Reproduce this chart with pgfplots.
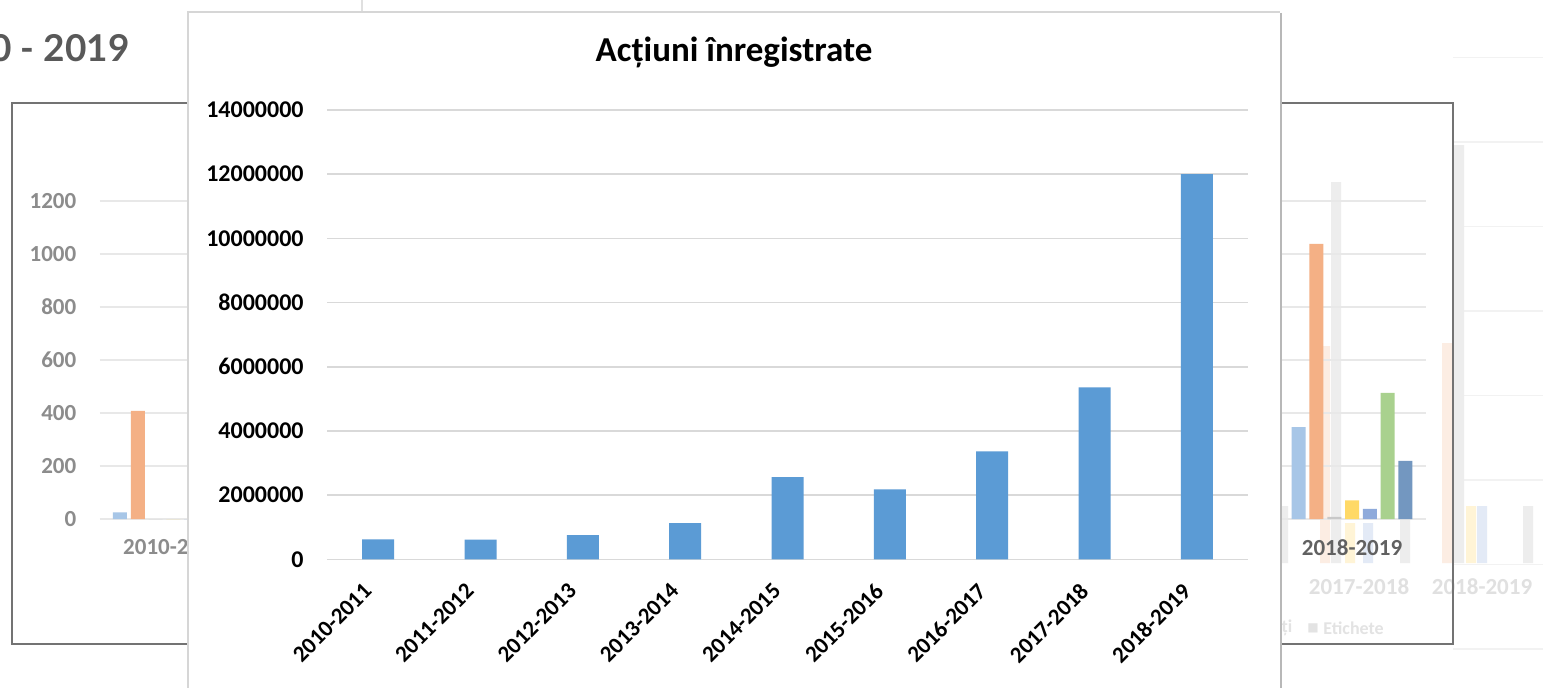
\documentclass[border=0pt]{standalone}
\usepackage{pgfplots}
\pgfplotsset{compat=1.18}
\usepackage{fontspec}
\setmainfont{Carlito}
\newfontfamily\lato{Lato}
\newfontfamily\dejavu{DejaVu Sans}
\definecolor{mainblue}{HTML}{5B9BD5}
\definecolor{gridc}{HTML}{D9D9D9}
\definecolor{bgtick}{HTML}{8C8C8C}
\definecolor{sA}{HTML}{A7C6E7}
\definecolor{sB}{HTML}{F4B085}
\definecolor{sC}{HTML}{C8C8C8}
\definecolor{sD}{HTML}{FFD966}
\definecolor{sE}{HTML}{8EAADB}
\definecolor{sF}{HTML}{A9D18E}
\definecolor{sG}{HTML}{7397C0}
\definecolor{ghostpeach}{HTML}{FCEDE3}
\definecolor{ghostgray}{HTML}{EDEDED}
\definecolor{ghostyellow}{HTML}{FFF4D6}
\definecolor{ghostblue}{HTML}{E3EAF6}

\begin{document}
\begin{tikzpicture}
\useasboundingbox (0,0) rectangle (778pt,343.5pt);
\begin{scope}
\clip (0,0) rectangle (778pt,343.5pt);
\fill[white] (0,0) rectangle (778pt,343.5pt);
\begin{scope}[x=0.5pt,y=-0.5pt,shift={(0pt,343.5pt)}]
  \foreach \yy in {57.5,142,226.5,311,395.5,480,564.5,649}
    \draw[color=black!5, line width=0.75pt] (1453,\yy) -- (1543,\yy);
  \draw[color=black!12, line width=0.6pt] (362,0) -- (362,12);
  \node[text=black!12, font=\fontsize{11.5}{12}\selectfont\bfseries, inner sep=0pt] at (1359,587) {2017-2018};
  \node[text=black!12, font=\fontsize{11.5}{12}\selectfont\bfseries, inner sep=0pt] at (1482,587) {2018-2019};
  \node[text=black!11, font=\fontsize{9}{10}\selectfont\bfseries, inner sep=0pt] at (1287,628) {ți};
  \node[text=black!11, font=\dejavu\fontsize{6}{7}\selectfont, inner sep=0pt] at (1313,628) {■};
  \node[text=black!11, font=\fontsize{9}{10}\selectfont\bfseries, inner sep=0pt, anchor=west] at (1323,628) {Etichete};
\end{scope}

\begin{axis}[at={(0pt,62pt)}, anchor=south west, scale only axis,
  width=778pt, height=250pt, xmin=0, xmax=1556, ymin=0, ymax=500,
  hide axis, ybar, bar width=5pt, /pgf/bar shift=0pt]
\addplot[fill=ghostpeach, draw=none] coordinates {(1325,217) (1447,220)};
\addplot[fill=ghostgray, draw=none] coordinates {(1336,381) (1459,418) (1405,59) (1528,57) (1283,57)};
\addplot[fill=ghostyellow, draw=none] coordinates {(1471,57) (1350,40)};
\addplot[fill=ghostblue, draw=none] coordinates {(1482,57) (1368,40)};
\end{axis}

\begin{scope}[x=0.5pt,y=-0.5pt,shift={(0pt,343.5pt)}]
  \draw[color=black!55, line width=0.8pt] (12,103) rectangle (1453,644);
  \node[anchor=base east, font=\lato\bfseries\fontsize{18.5}{21}\selectfont, text=black!65, inner sep=0pt] at (130,62) {2010 - 2019};
\end{scope}

\begin{axis}[at={(49.85pt,84pt)}, anchor=south west, scale only axis,
  width=663pt, height=159pt, xmin=-0.5, xmax=8.5, ymin=0, ymax=1200,
  ytick={0,200,400,600,800,1000,1200},
  yticklabels={0,200,400,600,800,1000,1200},
  xtick={0,8},
  xticklabels={{\textcolor{bgtick}{2010-2011}},{\textcolor{black!62}{2018-2019}}},
  ymajorgrids, grid style={color=black!9, line width=0.75pt},
  axis line style={draw=none}, major tick length=0pt,
  ybar=1.9pt, bar width=7pt,
  tick label style={font=\fontsize{11.5}{12}\selectfont\bfseries},
  yticklabel style={text=bgtick, anchor=east, inner sep=0pt, xshift=-11.5pt},
  xticklabel style={anchor=north, inner sep=0pt, yshift=-10pt}]
\addplot[fill=sA, draw=none] coordinates {(0,25) (8,347)};
\addplot[fill=sB, draw=none] coordinates {(0,408) (8,1038)};
\addplot[fill=sC, draw=none] coordinates {(0,0) (8,8)};
\addplot[fill=sD, draw=none] coordinates {(0,0) (8,70)};
\addplot[fill=sE, draw=none] coordinates {(0,0) (8,38)};
\addplot[fill=sF, draw=none] coordinates {(0,0) (8,476)};
\addplot[fill=sG, draw=none] coordinates {(0,0) (8,219)};
\end{axis}

\begin{scope}[x=0.5pt,y=-0.5pt,shift={(0pt,343.5pt)}]
  \fill[white] (188,12) rectangle (1280,720);
  \draw[color=black!16, line width=0.6pt] (188,720) -- (188,12) -- (1280,12);
  \draw[color=black!28, line width=1.2pt] (1281,13) -- (1281,720);
  \node[anchor=base, font=\fontsize{17.5}{20}\selectfont\bfseries, inner sep=0pt] at (734,62) {Acțiuni înregistrate};
\end{scope}

\begin{axis}[at={(163.5pt,63.85pt)}, anchor=south west, scale only axis,
  width=460.5pt, height=224.65pt, xmin=-0.5, xmax=8.5, ymin=0, ymax=14000000,
  xtick={0,1,2,3,4,5,6,7,8},
  xticklabels={2010-2011,2011-2012,2012-2013,2013-2014,2014-2015,2015-2016,2016-2017,2017-2018,2018-2019},
  ytick={0,2000000,4000000,6000000,8000000,10000000,12000000,14000000},
  yticklabels={0,2000000,4000000,6000000,8000000,10000000,12000000,14000000},
  scaled y ticks=false,
  ymajorgrids, grid style={color=gridc, line width=0.75pt},
  axis line style={draw=none}, major tick length=0pt,
  ybar, bar width=16pt,
  yticklabel style={font=\fontsize{12}{13}\selectfont\bfseries, anchor=east, inner sep=0pt, xshift=-11.5pt},
  xticklabel style={font=\fontsize{11.5}{12}\selectfont\bfseries, xshift=-8pt, yshift=-11pt, rotate=45, anchor=north east, inner sep=0pt}]
\addplot[fill=mainblue, draw=none] coordinates {
  (0,620000) (1,615000) (2,750000) (3,1130000) (4,2560000)
  (5,2180000) (6,3360000) (7,5360000) (8,12000000)};
\end{axis}
\end{scope}
\end{tikzpicture}
\end{document}
